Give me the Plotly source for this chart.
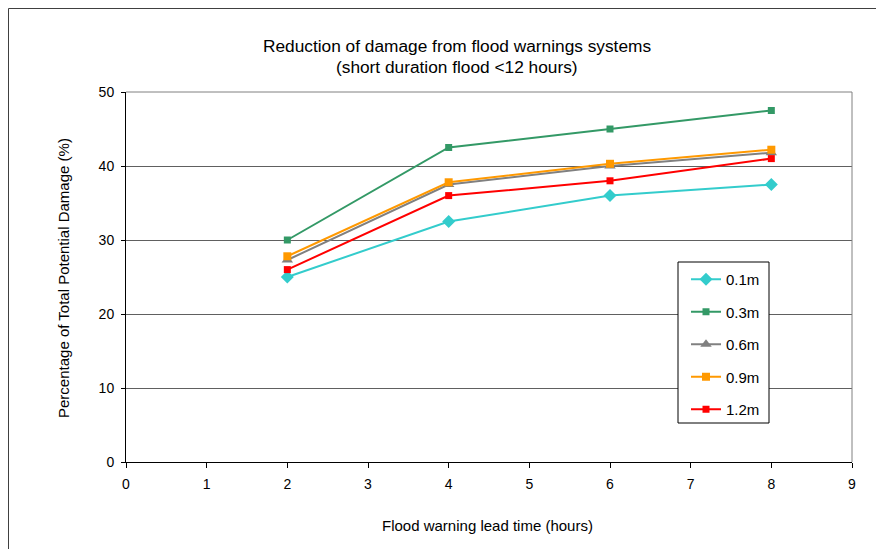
import plotly.graph_objects as go

lead_time = [2, 4, 6, 8]
series_names = ["0.1m", "0.3m", "0.6m", "0.9m", "1.2m"]
dmg_01 = [25.0, 32.5, 36.0, 37.5]
dmg_03 = [30.0, 42.5, 45.0, 47.5]
dmg_06 = [27.3, 37.5, 40.0, 41.8]
dmg_09 = [27.8, 37.8, 40.3, 42.2]
dmg_12 = [26.0, 36.0, 38.0, 41.0]

x_ticks = list(range(0, 10))
y_ticks = [0, 10, 20, 30, 40, 50]

colors = ["#33CCCC", "#339966", "#808080", "#FF9900", "#FF0000"]
symbols = ["diamond", "square", "triangle-up", "square", "square"]
msizes = [10, 7, 10, 8, 7]
values = [dmg_01, dmg_03, dmg_06, dmg_09, dmg_12]

# page has an 8px body margin, so the figure is laid out 8px smaller
OFF = 8
W, H = 884 - OFF, 549 - OFF
# plot area in page pixel coordinates
L, R, T, B = 126, 852, 92, 462

fig = go.Figure()
for name, vals, c, s, ms in zip(series_names, values, colors, symbols, msizes):
    fig.add_trace(go.Scatter(
        x=lead_time, y=vals, name=name, mode="lines+markers",
        legendgroup=name,
        line=dict(color=c, width=2),
        marker=dict(color=c, symbol=s, size=ms),
    ))

pw, ph = R - L, B - T
def px2paper_x(p):
    return (p - L) / pw
def px2paper_y(p):
    return (B - p) / ph

shapes = [
    dict(type="rect", xref="paper", yref="paper",
         x0=px2paper_x(8.5), x1=px2paper_x(W + 40),
         y0=px2paper_y(H + 40), y1=px2paper_y(8.5),
         line=dict(color="#404040", width=1), layer="below"),
    dict(type="line", xref="paper", yref="paper", x0=0, x1=1, y0=1, y1=1,
         line=dict(color="#808080", width=1)),
    dict(type="line", xref="paper", yref="paper", x0=1, x1=1, y0=0, y1=1,
         line=dict(color="#808080", width=1)),
    # legend frame
    dict(type="rect", xref="paper", yref="paper",
         x0=px2paper_x(678), x1=px2paper_x(769),
         y0=px2paper_y(423), y1=px2paper_y(262),
         line=dict(color="black", width=1), fillcolor="white", layer="above"),
]

font = "Liberation Sans, Arial, sans-serif"
fig.update_layout(
    width=W, height=H,
    margin=dict(l=L - OFF, r=(W + OFF) - R, t=T - OFF, b=(H + OFF) - B),
    paper_bgcolor="white", plot_bgcolor="white",
    font=dict(family=font, size=14, color="black"),
    showlegend=True,
    legend=dict(x=px2paper_x(686), y=px2paper_y(263), xanchor="left", yanchor="top",
                borderwidth=0, bgcolor="rgba(0,0,0,0)",
                font=dict(size=15), tracegroupgap=10, itemwidth=30),
    shapes=shapes,
    annotations=[
        dict(text="Reduction of damage from flood warnings systems",
             xref="paper", yref="paper", x=px2paper_x(457), y=px2paper_y(46),
             xanchor="center", yanchor="middle", showarrow=False,
             font=dict(size=17.3, family=font)),
        dict(text="(short duration flood <12 hours)",
             xref="paper", yref="paper", x=px2paper_x(457), y=px2paper_y(67),
             xanchor="center", yanchor="middle", showarrow=False,
             font=dict(size=17.3, family=font)),
        dict(text="Flood warning lead time (hours)",
             xref="paper", yref="paper", x=px2paper_x(487), y=px2paper_y(525),
             xanchor="center", yanchor="middle", showarrow=False,
             font=dict(size=15, family=font)),
        dict(text="Percentage of Total Potential Damage (%)",
             xref="paper", yref="paper", x=px2paper_x(63), y=px2paper_y(278),
             xanchor="center", yanchor="middle", showarrow=False, textangle=-90,
             font=dict(size=15, family=font)),
    ],
)
fig.update_xaxes(
    range=[0, 9], tickvals=x_ticks, ticktext=[str(v) for v in x_ticks],
    showline=True, linecolor="black", linewidth=1,
    ticks="outside", ticklen=5, tickcolor="black", ticklabelstandoff=4,
    showgrid=False, zeroline=False,
)
fig.update_yaxes(
    range=[0, 50], tickvals=y_ticks,
    showline=True, linecolor="black", linewidth=1,
    ticks="outside", ticklen=4, tickcolor="black", ticklabelstandoff=4,
    showgrid=True, gridcolor="#606060", gridwidth=1, zeroline=False,
)

fig.write_html("out.html")
